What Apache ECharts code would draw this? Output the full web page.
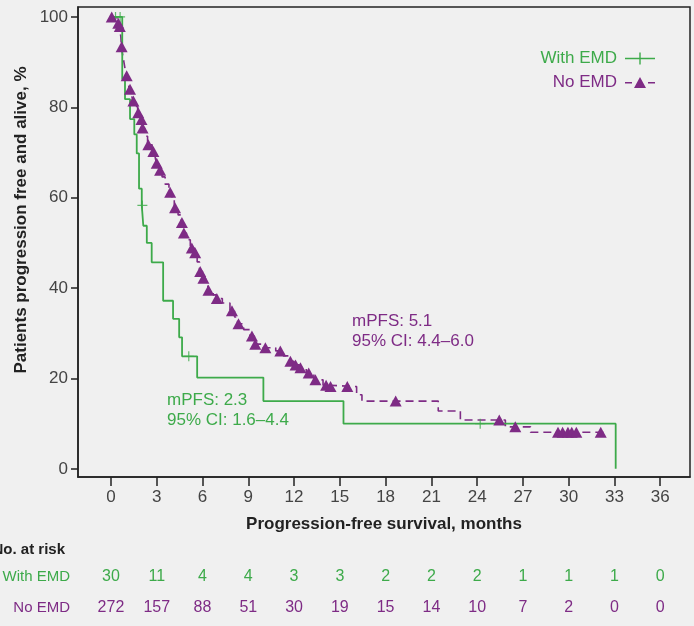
<!DOCTYPE html>
<html>
<head>
<meta charset="utf-8">
<script src="https://cdn.jsdelivr.net/npm/echarts@6/dist/echarts.min.js"></script>
<style>
  html, body { margin: 0; padding: 0; background: #f0f0f0; }
  #main { width: 694px; height: 626px; }
</style>
</head>
<body>
<div id="main"></div>
<script>
// tick values
const xTicks = [0, 3, 6, 9, 12, 15, 18, 21, 24, 27, 30, 33, 36]
const yTicks = [0, 20, 40, 60, 80, 100]

// number at risk
const riskWith = [30, 11, 4, 4, 3, 3, 2, 2, 2, 1, 1, 1, 0]
const riskNo = [272, 157, 88, 51, 30, 19, 15, 14, 10, 7, 2, 0, 0]

// With EMD KM steps [month, % after drop]
const withSteps = [
  [0, 100], [0.74, 86.2], [0.92, 81.8], [1.25, 77.4], [1.53, 74.0], [1.69, 69.8],
  [1.84, 62.0], [2.02, 58.3], [2.12, 53.8], [2.35, 50.0], [2.67, 45.7], [3.42, 37.2],
  [4.07, 33.2], [4.47, 29.1], [4.66, 24.9], [5.65, 20.2], [9.99, 15.0], [15.24, 10.0],
  [33.08, 0]
]
// With EMD censored
const withCens = [[0.3, 100], [0.6, 100], [2.06, 58.3], [5.1, 24.9], [24.2, 10.0]]

// No EMD KM steps
const noSteps = [
  [0, 100], [0.4, 98.6], [0.55, 97.9], [0.65, 95.5], [0.68, 93.4], [0.8, 91.0],
  [0.9, 89.0], [1.0, 87.0], [1.12, 85.5], [1.2, 84.0], [1.35, 82.6], [1.45, 81.4],
  [1.6, 80.2], [1.75, 78.8], [1.95, 77.3], [2.04, 75.4], [2.2, 73.6], [2.4, 71.7],
  [2.7, 70.2], [2.9, 68.9], [2.98, 67.6], [3.15, 66.1], [3.35, 64.6], [3.55, 63.0],
  [3.8, 61.2], [4.0, 59.5], [4.15, 57.8], [4.4, 56.2], [4.6, 54.5], [4.72, 52.2],
  [4.95, 50.7], [5.2, 48.9], [5.45, 47.8], [5.65, 45.8], [5.8, 43.7], [6.0, 42.2],
  [6.2, 40.8], [6.35, 39.5], [6.7, 38.5], [6.9, 37.7], [7.3, 36.7], [7.8, 35.0],
  [8.1, 33.6], [8.3, 32.1], [8.7, 30.8], [9.1, 29.4], [9.4, 27.6], [9.9, 26.8],
  [10.8, 26.1], [11.3, 25.0], [11.7, 23.8], [12.0, 23.0], [12.35, 22.4], [12.8, 21.2],
  [13.3, 19.7], [13.9, 18.5], [14.3, 18.2], [16.1, 16.4], [16.45, 15.0], [21.45, 12.8],
  [22.9, 10.8], [25.85, 9.3], [27.5, 8.1], [32.3, 8.1]
]
// No EMD censored
const noCens = [
  [0.05, 100], [0.48, 98.6], [0.58, 97.9], [0.7, 93.4], [1.03, 87.0], [1.25, 84.0],
  [1.47, 81.4], [1.79, 78.8], [2.0, 77.3], [2.07, 75.4], [2.45, 71.7], [2.78, 70.2],
  [3.0, 67.6], [3.22, 66.1], [3.88, 61.2], [4.2, 57.8], [4.65, 54.5], [4.78, 52.2],
  [5.3, 48.9], [5.52, 47.8], [5.85, 43.7], [6.06, 42.2], [6.39, 39.5], [6.94, 37.7],
  [7.93, 35.0], [8.36, 32.1], [9.24, 29.4], [9.46, 27.6], [10.12, 26.8], [11.1, 26.1],
  [11.76, 23.8], [12.1, 23.0], [12.42, 22.4], [12.96, 21.2], [13.4, 19.7], [14.1, 18.5],
  [14.39, 18.2], [15.49, 18.2], [18.66, 15.0], [25.45, 10.8], [26.5, 9.3], [29.3, 8.1],
  [29.6, 8.1], [29.95, 8.1], [30.2, 8.1], [30.5, 8.1], [32.1, 8.1]
]

const green = '#3daa4a'
const purple = '#7e2b85'
const font = "'Liberation Sans', Arial, sans-serif"
const fs = 17
const fsRisk = 16
const xMin = -2.16
const xMax = 37.95

// risk table rows: one thin grid each, only the x labels shown
const riskGrid = (top) => ({ left: 78, right: 4, top: top, height: 1, outerBoundsMode: 'none' })
const riskXAxis = (idx, vals, color) => ({
  type: 'value', gridIndex: idx, min: xMin, max: xMax,
  axisLine: { show: false }, axisTick: { show: false }, splitLine: { show: false },
  axisLabel: {
    customValues: xTicks, margin: 0, color: color, fontSize: fsRisk, fontFamily: font,
    formatter: (v) => String(vals[xTicks.indexOf(v)])
  }
})
const hiddenY = (idx) => ({ type: 'value', gridIndex: idx, show: false })

const myChart = echarts.init(document.getElementById('main'))
const option = {
  backgroundColor: '#f0f0f0',
  animation: false,
  grid: [
    { left: 78, right: 4, top: 7, bottom: 149, show: true, borderColor: '#222', borderWidth: 1.5, outerBoundsMode: 'none' },
    riskGrid(568),
    riskGrid(599)
  ],
  legend: {
    orient: 'vertical', align: 'right', right: 34, top: 45,
    itemWidth: 30, itemHeight: 12, itemGap: 7,
    textStyle: { fontSize: fs, fontFamily: font, padding: [0, 3, 0, 0] },
    data: [
      { name: 'With EMD', icon: 'path://M0,5.3h30v1.4h-30z M14.3,0h1.4v12h-1.4z', textStyle: { color: green } },
      { name: 'No EMD', icon: 'path://M0,6h7v1.6h-7z M9,12L15,1L21,12z M23,6h7v1.6h-7z', textStyle: { color: purple } }
    ]
  },
  xAxis: [
    {
      type: 'value', min: xMin, max: xMax,
      name: 'Progression-free survival, months', nameLocation: 'middle', nameGap: 39,
      nameTextStyle: { fontSize: fs, fontWeight: 'bold', color: '#222', fontFamily: font },
      axisLine: { onZero: false, lineStyle: { color: '#222', width: 1.5 } },
      axisTick: { customValues: xTicks, length: 9, lineStyle: { color: '#222', width: 1.5 } },
      axisLabel: { customValues: xTicks, margin: 12, fontSize: fs, color: '#444', fontFamily: font },
      splitLine: { show: false }
    },
    riskXAxis(1, riskWith, green),
    riskXAxis(2, riskNo, purple)
  ],
  yAxis: [
    {
      type: 'value', min: -1.8, max: 102.2,
      axisLine: { onZero: false, lineStyle: { color: '#222', width: 1.5 } },
      axisTick: { customValues: yTicks, length: 7, lineStyle: { color: '#222', width: 1.5 } },
      axisLabel: { customValues: yTicks, margin: 10, fontSize: fs, color: '#444', fontFamily: font },
      splitLine: { show: false }
    },
    hiddenY(1),
    hiddenY(2)
  ],
  series: [
    {
      name: 'With EMD', type: 'line', step: 'end', data: withSteps, showSymbol: false, symbol: 'none',
      itemStyle: { color: green }, lineStyle: { color: green, width: 1.8 }, z: 3
    },
    {
      name: 'No EMD', type: 'line', step: 'end', data: noSteps, showSymbol: false, symbol: 'none',
      itemStyle: { color: purple }, lineStyle: { color: purple, width: 1.6, type: [8, 5] }, z: 2
    },
    {
      name: 'With EMD censored', type: 'scatter', data: withCens,
      symbol: 'path://M4.4,0h1.2v10h-1.2z M0,4.4h10v1.2h-10z', symbolSize: 10,
      itemStyle: { color: green }, z: 4
    },
    {
      name: 'No EMD censored', type: 'scatter', data: noCens,
      symbol: 'triangle', symbolSize: [12, 11],
      itemStyle: { color: purple, opacity: 1 }, z: 5
    }
  ],
  graphic: [
    {
      type: 'text', x: 21, y: 220, rotation: Math.PI / 2,
      style: { text: 'Patients progression free and alive, %', fill: '#222', font: 'bold ' + fs + 'px ' + font, align: 'center', verticalAlign: 'middle' }
    },
    { type: 'text', x: 65, y: 550, style: { text: 'No. at risk', fill: '#222', font: 'bold 15px ' + font, align: 'right', verticalAlign: 'middle' } },
    { type: 'text', x: 70, y: 577, style: { text: 'With EMD', fill: green, font: '15px ' + font, align: 'right', verticalAlign: 'middle' } },
    { type: 'text', x: 70, y: 608, style: { text: 'No EMD', fill: purple, font: '15px ' + font, align: 'right', verticalAlign: 'middle' } },
    { type: 'text', x: 352, y: 321, style: { text: 'mPFS: 5.1', fill: purple, font: fs + 'px ' + font, verticalAlign: 'middle' } },
    { type: 'text', x: 352, y: 341, style: { text: '95% CI: 4.4\u20136.0', fill: purple, font: fs + 'px ' + font, verticalAlign: 'middle' } },
    { type: 'text', x: 167, y: 400, style: { text: 'mPFS: 2.3', fill: green, font: fs + 'px ' + font, verticalAlign: 'middle' } },
    { type: 'text', x: 167, y: 420, style: { text: '95% CI: 1.6\u20134.4', fill: green, font: fs + 'px ' + font, verticalAlign: 'middle' } }
  ]
}
option && myChart.setOption(option)
</script>
</body>
</html>
